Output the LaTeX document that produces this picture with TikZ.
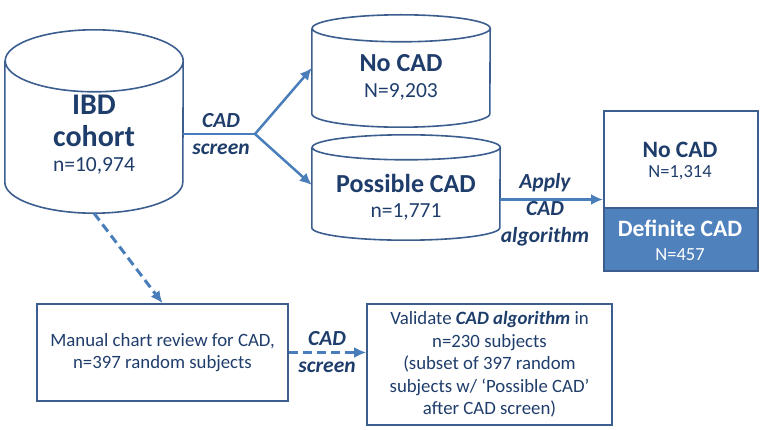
\documentclass[tikz,border=0pt]{standalone}
\usepackage{fontspec}
\setmainfont{Carlito}
\usetikzlibrary{arrows.meta,shapes,positioning}
\definecolor{navy}{HTML}{1F3D6B}
\definecolor{frame}{HTML}{3B5E8F}
\definecolor{flow}{HTML}{4A7EBB}
\definecolor{solid}{HTML}{4F81BD}
\tikzset{
  drum/.style    = {rectangle, inner sep=0pt},
  drumline/.style = {draw=frame, line width=1.6pt},
  headtxt/.style = {text=navy, align=center, inner sep=0pt},
  numtxt/.style  = {text=navy, align=center, inner sep=0pt,
                    font=\fontsize{21.5}{24}\selectfont},
  steptxt/.style = {text=navy, align=center, inner sep=0pt,
                    font=\bfseries\itshape\fontsize{21.5}{27}\selectfont},
  boxed/.style   = {draw=frame, line width=1.6pt, rectangle, text=navy, align=center,
                    inner sep=0pt, font=\fontsize{18.8}{22.5}\selectfont},
  flowline/.style = {draw=flow, line width=2.5pt},
  dashline/.style = {draw=flow, line width=3pt, dash pattern=on 9pt off 5pt}
}
\begin{document}
\begin{tikzpicture}[x=1pt, y=-1pt, >={Latex[length=12pt,width=11pt]}]
\useasboundingbox (0,0) rectangle (762,430);

% cylinder bodies, between the centres of the two end ellipses
\node[drum, minimum width=178pt, minimum height=121pt] (ibd) at (94,121.5) {};
\node[drum, minimum width=178pt, minimum height=85pt] (nocad) at (401,71) {};
\node[drum, minimum width=188pt, minimum height=80pt] (posscad) at (406,187.5) {};

% outlines of the cylinders
\foreach \d/\rx/\ry in {ibd/89/31, nocad/89/13.5, posscad/94/12.5}
  \draw[drumline] (\d.north west) -- (\d.south west)
    arc[start angle=180, end angle=360, x radius=\rx pt, y radius=\ry pt]
    -- (\d.north east)
    arc[start angle=0, end angle=360, x radius=\rx pt, y radius=\ry pt];

% text in the cylinders
\node[headtxt, font=\bfseries\fontsize{30}{30}\selectfont] (ibdname) at (94,105) {IBD};
\node[headtxt, font=\bfseries\fontsize{30}{30}\selectfont] (ibdsub) at (94,136) {cohort};
\node[numtxt] (ibdn) at (94,166) {n=10,974};
\node[headtxt, font=\bfseries\fontsize{26}{28}\selectfont] (nocadname) at (401,63) {No CAD};
\node[numtxt] (nocadn) at (401,92) {N=9,203};
\node[headtxt, font=\bfseries\fontsize{26}{28}\selectfont] (posscadname) at (406,183) {Possible CAD};
\node[numtxt] (posscadn) at (406,212) {n=1,771};

% result box
\node[boxed, minimum width=154pt, minimum height=97pt, anchor=north west] (nobox) at (603,110) {};
\node[boxed, minimum width=154pt, minimum height=63pt, anchor=north west, fill=solid]
  (defbox) at (603,207) {};
\node[headtxt, font=\bfseries\fontsize{23.5}{26}\selectfont] (noboxname) at (680,150) {No CAD};
\node[numtxt, font=\fontsize{18.5}{22}\selectfont] (noboxn) at (680,173) {N=1,314};
\node[headtxt, text=white, font=\bfseries\fontsize{23.5}{26}\selectfont] (defname) at (680,228) {Definite CAD};
\node[numtxt, text=white, font=\fontsize{18.5}{22}\selectfont] (defn) at (680,255) {N=457};

% validation boxes
\node[boxed, minimum width=251pt, minimum height=97pt] (manual) at (162.5,352.5)
  {Manual chart review for CAD,\\n=397 random subjects};
\node[boxed, minimum width=245pt, minimum height=121pt] (validate) at (489.5,364.5)
  {Validate \textbf{\textit{CAD algorithm}} in\\n=230 subjects\\(subset of 397 random\\subjects w/ ‘Possible CAD’\\after CAD screen)};

% connectors
\coordinate (split) at (255,134);
\draw[flowline] (split -| ibd.east) -- (split);
\draw[flowline, ->] (split) -- (nocad.west |- 0,68);
\draw[flowline, ->] (split) -- (posscad.west |- 0,185);
\node[steptxt] (screenlbl) at (221,134) {CAD\\screen};

\draw[flowline, ->] ([yshift=-12pt]posscad.east) -- ([yshift=-12pt]posscad.east -| nobox.west);
\node[steptxt] (applylbl) at (545,210) {Apply\\CAD\\algorithm};

\draw[dashline, ->] ([yshift=-31pt]ibd.south) -- (manual.north);
\draw[dashline, ->] (manual.east) -- (manual.east -| validate.west);
\node[steptxt] (screenlbl2) at (327,352) {CAD\\screen};
\end{tikzpicture}
\end{document}
